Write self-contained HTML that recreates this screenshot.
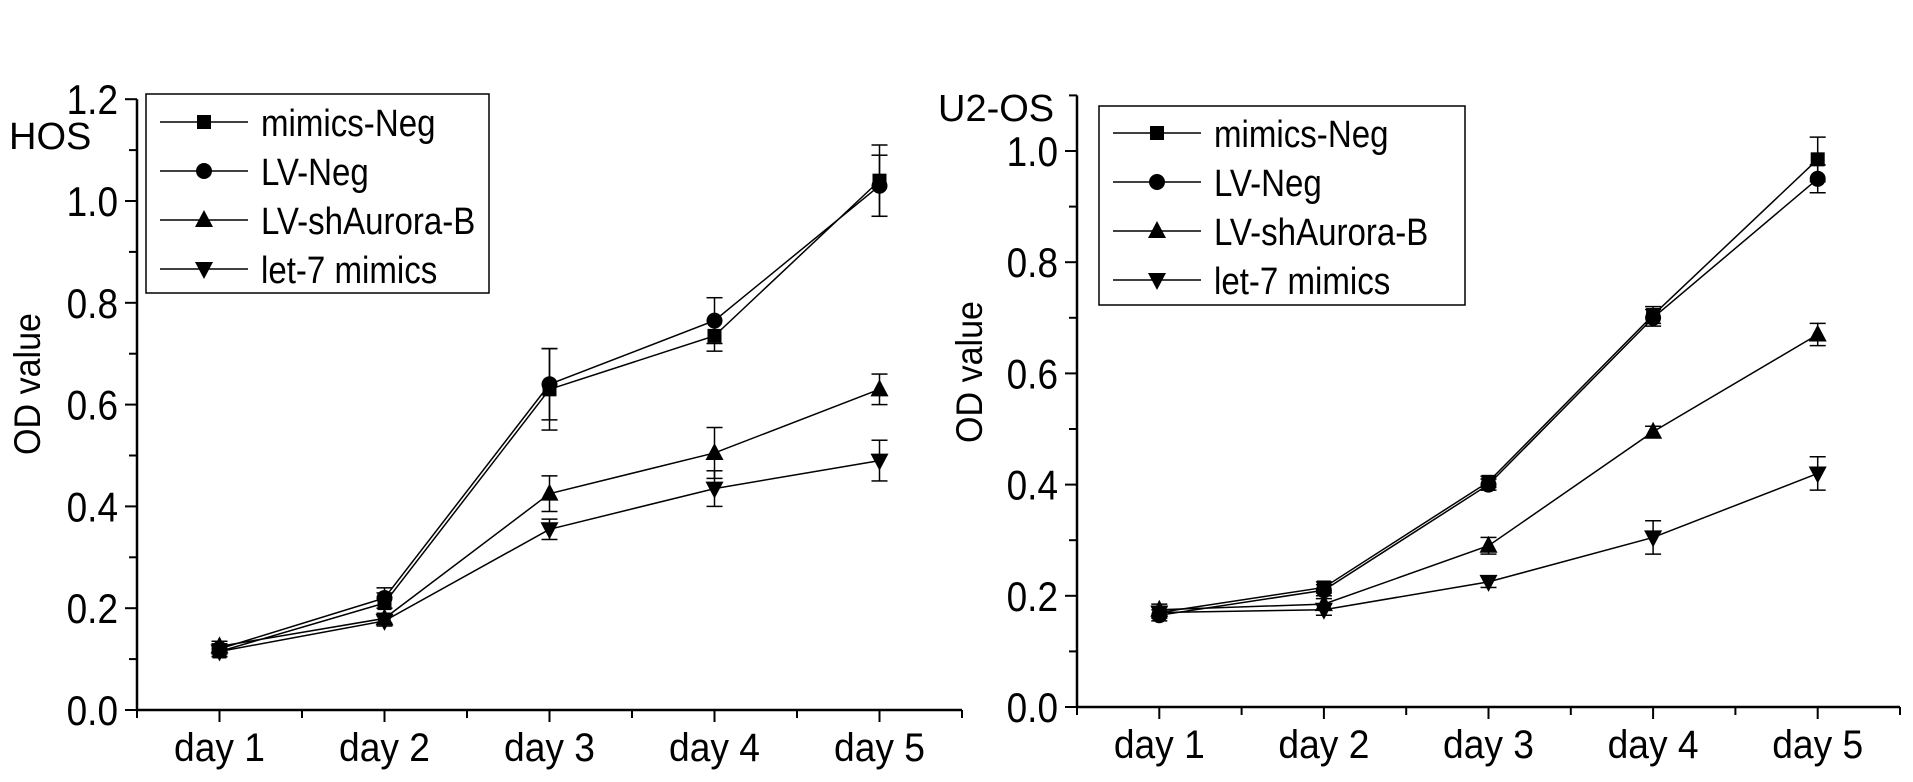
<!DOCTYPE html>
<html><head><meta charset="utf-8">
<style>
html,body{margin:0;padding:0;background:#fff;}
svg{display:block;font-family:"Liberation Sans",Arial,sans-serif;}
</style></head>
<body>
<svg id="chart" width="1913" height="782" viewBox="0 0 1913 782" xmlns="http://www.w3.org/2000/svg"></svg>
<script>
const categories = ["day 1","day 2","day 3","day 4","day 5"];
const seriesNames = ["mimics-Neg","LV-Neg","LV-shAurora-B","let-7 mimics"];
const markerTypes = ["square","circle","triangle","down"];
// HOS panel
const hosMimicsNeg = [0.115,0.21,0.63,0.735,1.04];
const hosLvNeg = [0.12,0.22,0.64,0.765,1.03];
const hosShAurora = [0.125,0.18,0.425,0.505,0.63];
const hosLet7 = [0.115,0.175,0.355,0.435,0.49];
const hosErrMimicsNeg = [0.01,0.02,0.08,0.03,0.07];
const hosErrLvNeg = [0.01,0.02,0.07,0.045,0.06];
const hosErrShAurora = [0.01,0.01,0.035,0.05,0.03];
const hosErrLet7 = [0.01,0.01,0.02,0.035,0.04];
const hosTicks = ["0.0","0.2","0.4","0.6","0.8","1.0","1.2"];
// U2-OS panel
const u2MimicsNeg = [0.17,0.215,0.405,0.705,0.985];
const u2LvNeg = [0.165,0.21,0.40,0.70,0.95];
const u2ShAurora = [0.175,0.185,0.29,0.495,0.67];
const u2Let7 = [0.17,0.175,0.225,0.305,0.42];
const u2ErrMimicsNeg = [0.01,0.01,0.01,0.015,0.04];
const u2ErrLvNeg = [0.01,0.01,0.01,0.015,0.025];
const u2ErrShAurora = [0.01,0.01,0.015,0.01,0.02];
const u2ErrLet7 = [0.01,0.01,0.01,0.03,0.03];
const u2Ticks = ["0.0","0.2","0.4","0.6","0.8","1.0"];

const NS="http://www.w3.org/2000/svg";
const svg=document.getElementById('chart');
function mk(tag,attrs,parent){const e=document.createElementNS(NS,tag);for(const k in attrs)e.setAttribute(k,attrs[k]);(parent||svg).appendChild(e);return e;}

function marker(g,type,x,y){
  let m;
  if(type==="square"){m=mk('rect',{x:x-7,y:y-7,width:14,height:14,fill:'#000'},g);}
  else if(type==="circle"){m=mk('circle',{cx:x,cy:y,r:8,fill:'#000'},g);}
  else if(type==="triangle"){m=mk('polygon',{points:`${x},${y-10} ${x-9},${y+7} ${x+9},${y+7}`,fill:'#000'},g);}
  else {m=mk('polygon',{points:`${x},${y+10} ${x-9},${y-7} ${x+9},${y-7}`,fill:'#000'},g);}
  
  
}

function panel(cfg){
  const g=mk('g',{});
  
  
  const X=i=>cfg.x0+cfg.step*(i+0.5);
  const Y=v=>cfg.y0-v*cfg.scale;
  const xEnd=cfg.x0+cfg.step*categories.length;
  const ya=mk('line',{x1:cfg.x0,y1:cfg.y0,x2:cfg.x0,y2:Y(cfg.ymax),stroke:'#000','stroke-width':2.5},g);
  
  
  const xa=mk('line',{x1:cfg.x0,y1:cfg.y0,x2:xEnd,y2:cfg.y0,stroke:'#000','stroke-width':2.5},g);
  
  
  for(let k=0;k<=Math.round(cfg.ymax/0.1+1e-6);k++){
    const v=k*0.1,y=Y(v),major=k%2===0;
    mk('line',{x1:cfg.x0-(major?12:8),y1:y,x2:cfg.x0,y2:y,stroke:'#000','stroke-width':2},g);
  }
  cfg.ticks.forEach((t,i)=>{
    const tl=mk('text',{x:0,y:0,'font-size':42,'text-anchor':'end',transform:`translate(${cfg.x0-19},${Y(parseFloat(t))+15}) scale(0.88,1)`},g);
    tl.textContent=t;
    
    
  });
  for(let k=0;k<=categories.length*2;k++){
    const x=cfg.x0+cfg.step*k/2,major=k%2===1;
    mk('line',{x1:x,y1:cfg.y0,x2:x,y2:cfg.y0+(major?12:8),stroke:'#000','stroke-width':2},g);
  }
  categories.forEach((c,i)=>{
    const tl=mk('text',{x:0,y:0,'font-size':40,'text-anchor':'middle',transform:`translate(${X(i)},${cfg.y0+51}) scale(0.93,1)`},g);
    tl.textContent=c;
    
    
  });
  const yt=mk('text',{x:0,y:0,'font-size':37,'text-anchor':'middle',transform:`translate(${cfg.ytx},${cfg.yty}) rotate(-90) scale(0.92,1)`},g);
  yt.textContent="OD value";
  
  
  const pt=mk('text',{x:cfg.tx,y:cfg.ty,'font-size':38},g);
  pt.textContent=cfg.title;
  
  
  cfg.series.forEach((s,si)=>{
    const sg=mk('g',{},g);
    
    
    const pts=s.map((v,i)=>X(i)+','+Y(v)).join(' ');
    mk('polyline',{points:pts,fill:'none',stroke:'#000','stroke-width':1.5},sg);
    s.forEach((v,i)=>{
      const e=cfg.errs[si][i],x=X(i);
      mk('line',{x1:x,y1:Y(v-e),x2:x,y2:Y(v+e),stroke:'#000','stroke-width':1.5},sg);
      mk('line',{x1:x-8,y1:Y(v+e),x2:x+8,y2:Y(v+e),stroke:'#000','stroke-width':1.5},sg);
      mk('line',{x1:x-8,y1:Y(v-e),x2:x+8,y2:Y(v-e),stroke:'#000','stroke-width':1.5},sg);
      marker(sg,markerTypes[si],x,Y(v));
    });
  });
  const lg=mk('g',{},g);
  
  
  mk('rect',{x:cfg.lx,y:cfg.ly,width:cfg.lw,height:cfg.lh,fill:'#fff',stroke:'#000','stroke-width':1.5},lg);
  seriesNames.forEach((n,i)=>{
    const eg=mk('g',{},lg);
    
    
    const cy=cfg.ly+cfg.row0+i*49;
    mk('line',{x1:cfg.lx+14,y1:cy,x2:cfg.lx+102,y2:cy,stroke:'#000','stroke-width':1.5},eg);
    marker(eg,markerTypes[i],cfg.lx+58,cy);
    const t=mk('text',{x:0,y:0,'font-size':38,transform:`translate(${cfg.lx+115},${cy+14}) scale(0.87,1)`},eg);
    t.textContent=n;
  });
}

panel({name:'hos-chart',x0:137,y0:710,step:165,scale:509,ymax:1.2,ticks:hosTicks,
  series:[hosMimicsNeg,hosLvNeg,hosShAurora,hosLet7],
  errs:[hosErrMimicsNeg,hosErrLvNeg,hosErrShAurora,hosErrLet7],
  ytx:40,yty:384,title:'HOS',tx:9,ty:149,lx:146,ly:94,lw:343,lh:199,row0:28});
panel({name:'u2os-chart',x0:1077,y0:707,step:164.6,scale:556,ymax:1.1,ticks:u2Ticks,
  series:[u2MimicsNeg,u2LvNeg,u2ShAurora,u2Let7],
  errs:[u2ErrMimicsNeg,u2ErrLvNeg,u2ErrShAurora,u2ErrLet7],
  ytx:982,yty:372,title:'U2-OS',tx:938,ty:121,lx:1099,ly:106,lw:366,lh:199,row0:27});
</script>
</body></html>
